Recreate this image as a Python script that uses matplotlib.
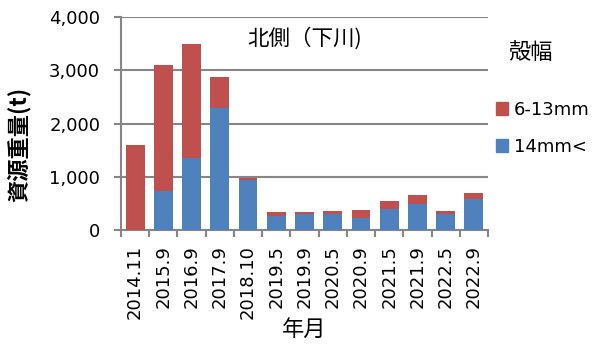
import matplotlib.pyplot as plt
from matplotlib.ticker import FuncFormatter, FixedLocator
from matplotlib.patches import Patch

plt.rcParams['font.family'] = ['DejaVu Sans', 'Noto Sans CJK JP']

# 調査年月ごとの資源重量 (t)
nengetsu = ["2014.11", "2015.9", "2016.9", "2017.9", "2018.10", "2019.5", "2019.9",
            "2020.5", "2020.9", "2021.5", "2021.9", "2022.5", "2022.9"]
dai = [0, 730, 1360, 2290, 940, 260, 300, 300, 230, 400, 480, 300, 580]        # 14mm<
shou = [1600, 2370, 2140, 590, 40, 80, 40, 60, 150, 140, 180, 50, 110]         # 6-13mm

c_dai = "#4F81BD"
c_shou = "#C0504D"
grid_c = "#868686"
jp = ['Noto Sans CJK JP', 'DejaVu Sans']

fig = plt.figure(figsize=(5.93, 3.47), dpi=100)
ax = fig.add_axes([0.204, 0.337, 0.619, 0.614])

x = range(len(nengetsu))
ax.bar(x, dai, width=0.67, color=c_dai, zorder=3)
ax.bar(x, shou, bottom=dai, width=0.67, color=c_shou, zorder=3)

ax.set_ylim(0, 4000)
ax.set_xlim(-0.5, len(nengetsu) - 0.5)
ax.set_yticks([0, 1000, 2000, 3000, 4000])
ax.yaxis.set_major_formatter(FuncFormatter(lambda v, p: f"{int(v):,}"))
ax.grid(axis="y", color=grid_c, linewidth=1.5, zorder=0)

# x軸: 目盛線はカテゴリの境界、ラベルは中央
ax.set_xticks(list(x))
ax.set_xticklabels(nengetsu, rotation=90, fontsize=13)
ax.tick_params(axis="x", length=0, pad=11)
ax.xaxis.set_minor_locator(FixedLocator([i - 0.5 for i in range(len(nengetsu) + 1)]))
ax.tick_params(axis="x", which="minor", length=5, width=1.5, color=grid_c, direction="out")
ax.tick_params(axis="y", length=5, width=1.5, color=grid_c, labelsize=13, pad=10)

for s in ["top", "right"]:
    ax.spines[s].set_visible(False)
for s in ["left", "bottom"]:
    ax.spines[s].set_color(grid_c)
    ax.spines[s].set_linewidth(1.5)

ax.text(0.5, 0.899, "北側（下川)", transform=ax.transAxes, ha="center", va="center",
        fontsize=15.5, family=jp)
ax.set_xlabel("年月", fontsize=16, family=jp)
ax.xaxis.set_label_coords(0.5, -0.41)
ax.set_ylabel("資源重量(t)", fontsize=16, family=jp, fontweight="bold")
ax.yaxis.set_label_coords(-0.245, 0.40)

fig.text(0.895, 0.850, "殻幅", ha="center", va="center", fontsize=16, family=jp)
handles = [Patch(color=c_shou, label="6-13mm"), Patch(color=c_dai, label="14mm<")]
fig.legend(handles=handles, loc="center left", bbox_to_anchor=(0.836, 0.630),
           frameon=False, fontsize=13, handlelength=0.7, handleheight=0.7,
           handletextpad=0.3, labelspacing=1.05, borderaxespad=0, borderpad=0)

fig.savefig("out.png", dpi=100)
